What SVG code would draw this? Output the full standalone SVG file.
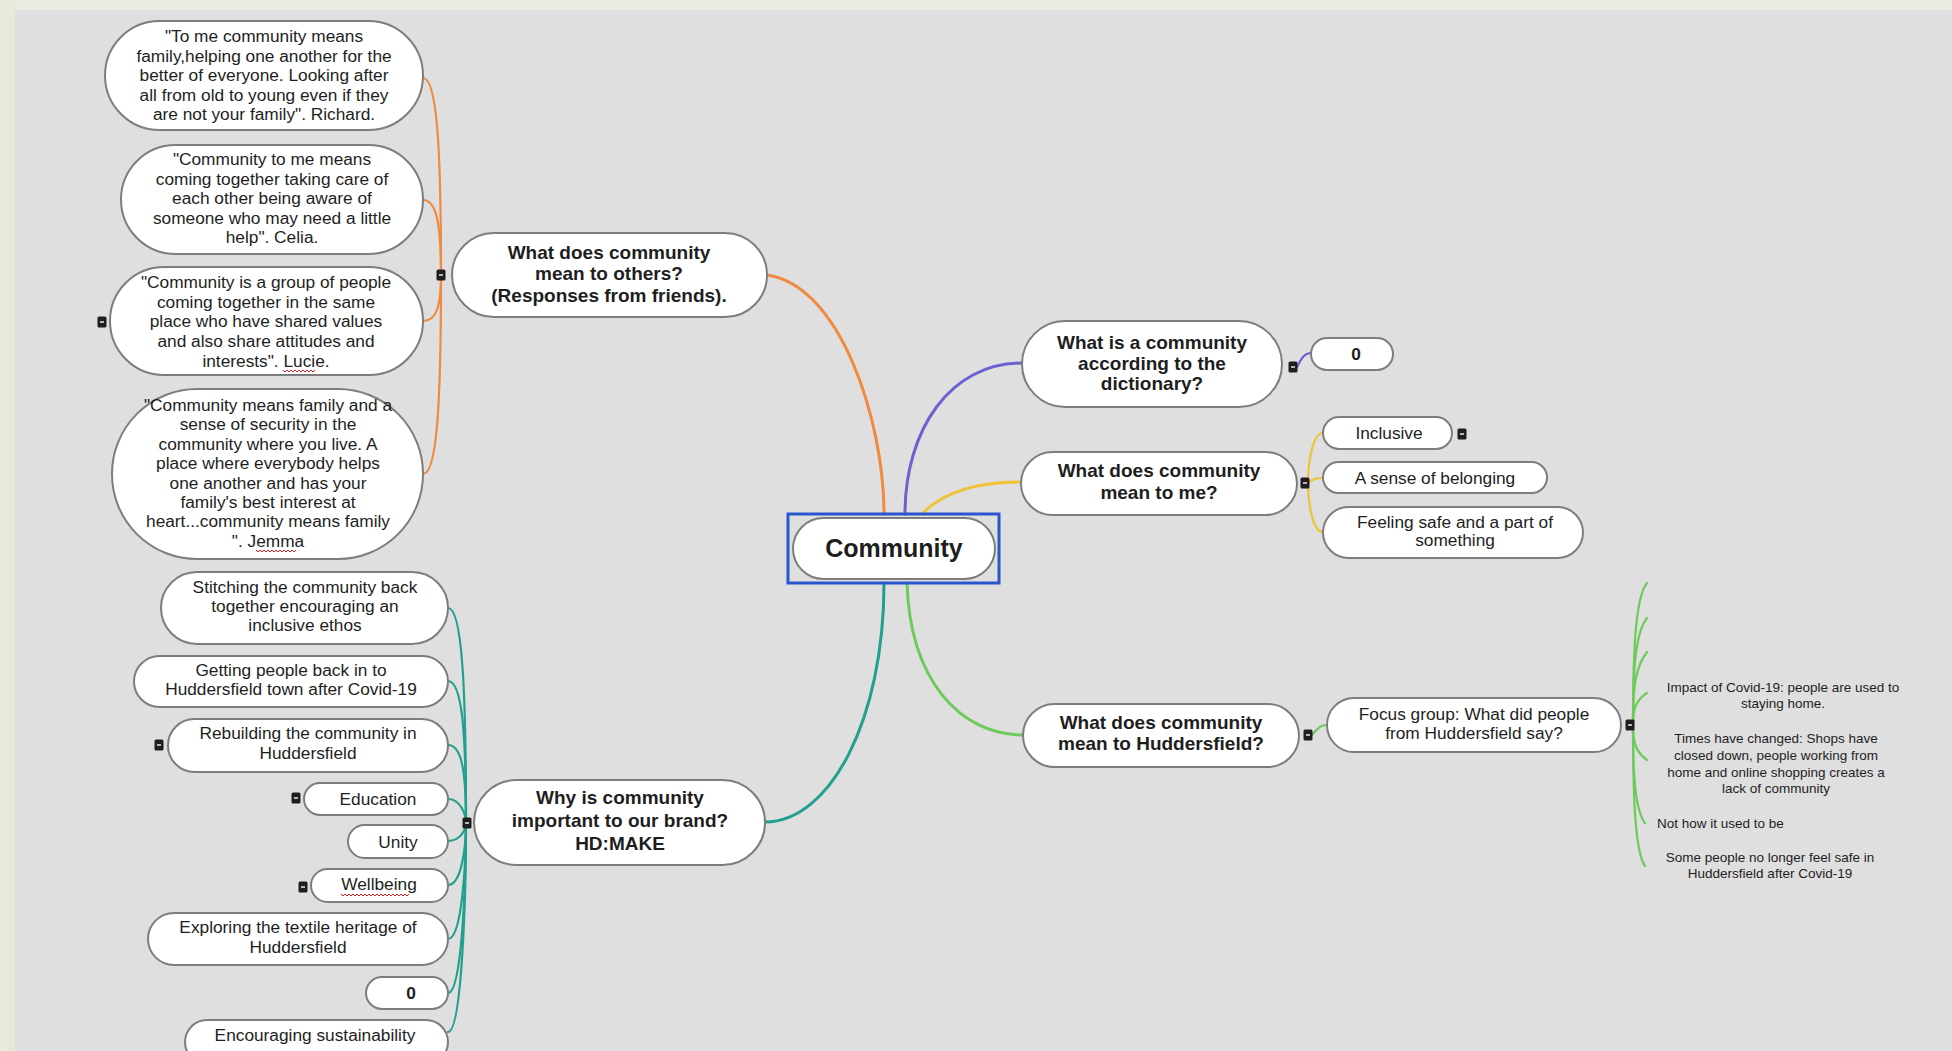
<svg xmlns="http://www.w3.org/2000/svg" xmlns:xlink="http://www.w3.org/1999/xlink" width="1952" height="1051" viewBox="0 0 1952 1051">
<style>
.node rect.p{fill:#ffffff;stroke:#7d7d7d;stroke-width:2}
text{font-family:"Liberation Sans",Arial,sans-serif;fill:#1e1e1e}
.b{font-weight:bold;font-size:19px;text-anchor:middle}
.r{font-size:17.3px;text-anchor:middle}
.lf{font-size:13.5px;text-anchor:middle}
.c{fill:none;stroke-linecap:round}
.or{stroke:#ef8a3e}
.pu{stroke:#6a62cf}
.ye{stroke:#efc238}
.te{stroke:#21a08f}
.gr{stroke:#6ccb5a}
.sq{fill:none;stroke:#d02020;stroke-width:1}
</style>
<defs>
<symbol id="mk" viewBox="-5 -6 10 12" width="10" height="12" overflow="visible">
<rect x="-4.5" y="-5.5" width="9" height="11" rx="1.5" fill="#1e1e1e"/>
<rect x="-2" y="-1" width="4" height="2" fill="#b8b8b8"/>
</symbol>
</defs>
<rect x="0" y="0" width="1952" height="1051" fill="#dfdfdf"/>
<rect x="0" y="0" width="1952" height="10" fill="#ebebe3"/>
<rect x="0" y="0" width="15" height="1051" fill="#e8e9d8"/>

<g id="connectors">
<path class="c or" stroke-width="3" d="M 767 275 C 840 285, 884 420, 884 514"/>
<path class="c pu" stroke-width="3" d="M 905 514 C 905 430, 950 363, 1022 363"/>
<path class="c ye" stroke-width="3" d="M 922 514 C 945 490, 980 482, 1021 482"/>
<path class="c te" stroke-width="3" d="M 884 583 C 884 720, 830 822, 765 822"/>
<path class="c gr" stroke-width="3" d="M 907 583 C 910 680, 960 735, 1023 735"/>
<g stroke-width="2.2">
<path class="c or" d="M 423 78 C 437 78, 441 147, 441 275"/>
<path class="c or" d="M 423 200 C 437 200, 441 226, 441 275"/>
<path class="c or" d="M 423 321 C 437 321, 441 305, 441 275"/>
<path class="c or" d="M 423 474 C 437 474, 441 404, 441 275"/>
<path class="c te" d="M 448 608 C 462 608, 466 685, 466 823"/>
<path class="c te" d="M 448 681 C 462 681, 466 731, 466 823"/>
<path class="c te" d="M 448 745 C 462 745, 466 772, 466 823"/>
<path class="c te" d="M 448 799 C 460 799, 466 814, 466 823"/>
<path class="c te" d="M 448 841 C 460 841, 466 830, 466 823"/>
<path class="c te" d="M 448 885 C 462 885, 466 845, 466 823"/>
<path class="c te" d="M 448 939 C 462 939, 466 864, 466 823"/>
<path class="c te" d="M 448 993 C 462 993, 466 882, 466 823"/>
<path class="c te" d="M 448 1032 C 462 1032, 466 896, 466 823"/>
<path class="c pu" d="M 1297 367 C 1302 357, 1305 353, 1311 353"/>
<path class="c ye" d="M 1323 433 C 1312 433, 1308 466, 1308 483"/>
<path class="c ye" d="M 1323 478 C 1314 478, 1310 481, 1308 483"/>
<path class="c ye" d="M 1323 532 C 1312 532, 1308 500, 1308 483"/>
<path class="c gr" d="M 1312 735 C 1318 728, 1320 725, 1327 725"/>
<path class="c gr" d="M 1633 725 C 1633 654, 1635 598, 1647 583"/>
<path class="c gr" d="M 1633 725 C 1633 672, 1635 633, 1647 618"/>
<path class="c gr" d="M 1633 725 C 1633 689, 1635 667, 1647 652"/>
<path class="c gr" d="M 1633 725 C 1633 709, 1636 700, 1647 693"/>
<path class="c gr" d="M 1633 725 C 1633 743, 1636 752, 1647 760"/>
<path class="c gr" d="M 1633 725 C 1633 774, 1635 810, 1645 823"/>
<path class="c gr" d="M 1633 725 C 1633 796, 1635 852, 1645 866"/>
</g>
</g>

<g id="n-center" class="node">
<rect class="p" x="793" y="518" width="202" height="61" rx="30.5"/>
<rect x="788" y="514" width="211" height="69" fill="none" stroke="#2b55cf" stroke-width="3"/>
<text x="894" y="557" style="font-weight:bold;font-size:25px;text-anchor:middle">Community</text>
</g>

<g id="n-others" class="node">
<rect class="p" x="452" y="233" width="315" height="84" rx="42"/>
<text class="b"><tspan x="609" y="259">What does community</tspan><tspan x="609" y="280">mean to others?</tspan><tspan x="609" y="302">(Responses from friends).</tspan></text>
<use xlink:href="#mk" x="436" y="269"/>
</g>

<g id="n-richard" class="node">
<rect class="p" x="105" y="21" width="318" height="109" rx="54.5"/>
<text class="r"><tspan x="264" y="42">"To me community means</tspan><tspan x="264" y="61.6">family,helping one another for the</tspan><tspan x="264" y="81.2">better of everyone. Looking after</tspan><tspan x="264" y="100.8">all from old to young even if they</tspan><tspan x="264" y="120.4">are not your family". Richard.</tspan></text>
</g>

<g id="n-celia" class="node">
<rect class="p" x="121" y="145" width="302" height="109" rx="54.5"/>
<text class="r"><tspan x="272" y="165">"Community to me means</tspan><tspan x="272" y="184.5">coming together taking care of</tspan><tspan x="272" y="204">each other being aware of</tspan><tspan x="272" y="223.5">someone who may need a little</tspan><tspan x="272" y="243">help". Celia.</tspan></text>
</g>

<g id="n-lucie" class="node">
<rect class="p" x="110" y="267" width="313" height="108" rx="54"/>
<text class="r"><tspan x="266" y="288">"Community is a group of people</tspan><tspan x="266" y="307.7">coming together in the same</tspan><tspan x="266" y="327.4">place who have shared values</tspan><tspan x="266" y="347.1">and also share attitudes and</tspan><tspan x="266" y="366.8">interests". Lucie.</tspan></text>
<path class="sq" d="M 283 370 l 2 2 l 2 -2 l 2 2 l 2 -2 l 2 2 l 2 -2 l 2 2 l 2 -2 l 2 2 l 2 -2 l 2 2 l 2 -2 l 2 2 l 2 -2 l 2 2 l 2 -2"/>
<use xlink:href="#mk" x="97" y="316"/>
</g>

<g id="n-jemma" class="node">
<rect class="p" x="112" y="389" width="311" height="170" rx="85"/>
<text class="r"><tspan x="268" y="411">"Community means family and a</tspan><tspan x="268" y="430.4">sense of security in the</tspan><tspan x="268" y="449.8">community where you live. A</tspan><tspan x="268" y="469.2">place where everybody helps</tspan><tspan x="268" y="488.6">one another and has your</tspan><tspan x="268" y="508">family's best interest at</tspan><tspan x="268" y="527.4">heart...community means family</tspan><tspan x="268" y="546.8">". Jemma</tspan></text>
<path class="sq" d="M 256 550 l 2 2 l 2 -2 l 2 2 l 2 -2 l 2 2 l 2 -2 l 2 2 l 2 -2 l 2 2 l 2 -2 l 2 2 l 2 -2 l 2 2 l 2 -2 l 2 2 l 2 -2 l 2 2 l 2 -2 l 2 2 l 2 -2"/>
</g>

<g id="n-why" class="node">
<rect class="p" x="474" y="780" width="291" height="85" rx="42.5"/>
<text class="b"><tspan x="620" y="804">Why is community</tspan><tspan x="620" y="827">important to our brand?</tspan><tspan x="620" y="850">HD:MAKE</tspan></text>
<use xlink:href="#mk" x="462" y="817"/>
</g>

<g id="n-stitching" class="node">
<rect class="p" x="161" y="572" width="287" height="72" rx="36"/>
<text class="r"><tspan x="305" y="593">Stitching the community back</tspan><tspan x="305" y="612">together encouraging an</tspan><tspan x="305" y="631">inclusive ethos</tspan></text>
</g>

<g id="n-getting" class="node">
<rect class="p" x="134" y="656" width="314" height="51" rx="25.5"/>
<text class="r"><tspan x="291" y="676">Getting people back in to</tspan><tspan x="291" y="695">Huddersfield town after Covid-19</tspan></text>
</g>

<g id="n-rebuilding" class="node">
<rect class="p" x="168" y="719" width="280" height="53" rx="26.5"/>
<text class="r"><tspan x="308" y="739">Rebuilding the community in</tspan><tspan x="308" y="759">Huddersfield</tspan></text>
<use xlink:href="#mk" x="154" y="739"/>
</g>

<g id="n-education" class="node">
<rect class="p" x="304" y="783" width="144" height="32" rx="16"/>
<text class="r" x="378" y="805">Education</text>
<use xlink:href="#mk" x="291" y="792"/>
</g>

<g id="n-unity" class="node">
<rect class="p" x="348" y="825" width="100" height="33" rx="16.5"/>
<text class="r" x="398" y="848">Unity</text>
</g>

<g id="n-wellbeing" class="node">
<rect class="p" x="311" y="869" width="137" height="33" rx="16.5"/>
<text class="r" x="379" y="890">Wellbeing</text>
<path class="sq" d="M 341 894 l 2 2 l 2 -2 l 2 2 l 2 -2 l 2 2 l 2 -2 l 2 2 l 2 -2 l 2 2 l 2 -2 l 2 2 l 2 -2 l 2 2 l 2 -2 l 2 2 l 2 -2 l 2 2 l 2 -2 l 2 2 l 2 -2 l 2 2 l 2 -2 l 2 2 l 2 -2 l 2 2 l 2 -2 l 2 2 l 2 -2 l 2 2 l 2 -2 l 2 2 l 2 -2 l 2 2 l 2 -2"/>
<use xlink:href="#mk" x="298" y="881"/>
</g>

<g id="n-exploring" class="node">
<rect class="p" x="148" y="913" width="300" height="52" rx="26"/>
<text class="r"><tspan x="298" y="933">Exploring the textile heritage of</tspan><tspan x="298" y="953">Huddersfield</tspan></text>
</g>

<g id="n-zero1" class="node">
<rect class="p" x="366" y="977" width="82" height="32" rx="16"/>
<text class="r" x="411" y="999" style="font-weight:bold">0</text>
</g>

<g id="n-sustain" class="node">
<rect class="p" x="185" y="1020" width="263" height="44" rx="22"/>
<text class="r" x="315" y="1041">Encouraging sustainability</text>
</g>

<g id="n-dict" class="node">
<rect class="p" x="1022" y="321" width="260" height="86" rx="43"/>
<text class="b"><tspan x="1152" y="349">What is a community</tspan><tspan x="1152" y="370">according to the</tspan><tspan x="1152" y="390">dictionary?</tspan></text>
<use xlink:href="#mk" x="1288" y="361"/>
</g>

<g id="n-zero2" class="node">
<rect class="p" x="1311" y="338" width="82" height="32" rx="16"/>
<text class="r" x="1356" y="360" style="font-weight:bold">0</text>
</g>

<g id="n-me" class="node">
<rect class="p" x="1021" y="452" width="276" height="63" rx="31.5"/>
<text class="b"><tspan x="1159" y="477">What does community</tspan><tspan x="1159" y="499">mean to me?</tspan></text>
<use xlink:href="#mk" x="1300" y="477"/>
</g>

<g id="n-inclusive" class="node">
<rect class="p" x="1323" y="417" width="129" height="32" rx="16"/>
<text class="r" x="1389" y="439">Inclusive</text>
<use xlink:href="#mk" x="1457" y="428"/>
</g>

<g id="n-belonging" class="node">
<rect class="p" x="1323" y="462" width="224" height="31" rx="15.5"/>
<text class="r" x="1435" y="484">A sense of belonging</text>
</g>

<g id="n-feeling" class="node">
<rect class="p" x="1323" y="507" width="260" height="51" rx="25.5"/>
<text class="r"><tspan x="1455" y="528">Feeling safe and a part of</tspan><tspan x="1455" y="546">something</tspan></text>
</g>

<g id="n-hudd" class="node">
<rect class="p" x="1023" y="704" width="276" height="63" rx="31.5"/>
<text class="b"><tspan x="1161" y="729">What does community</tspan><tspan x="1161" y="750">mean to Huddersfield?</tspan></text>
<use xlink:href="#mk" x="1303" y="729"/>
</g>

<g id="n-focus" class="node">
<rect class="p" x="1327" y="698" width="294" height="54" rx="27"/>
<text class="r"><tspan x="1474" y="720">Focus group: What did people</tspan><tspan x="1474" y="739">from Huddersfield say?</tspan></text>
<use xlink:href="#mk" x="1625" y="719"/>
</g>

<g id="n-impact" class="node">
<text class="lf"><tspan x="1783" y="692">Impact of Covid-19: people are used to</tspan><tspan x="1783" y="708">staying home.</tspan></text>
</g>
<g id="n-times" class="node">
<text class="lf"><tspan x="1776" y="743">Times have changed: Shops have</tspan><tspan x="1776" y="760">closed down, people working from</tspan><tspan x="1776" y="777">home and online shopping creates a</tspan><tspan x="1776" y="793">lack of community</tspan></text>
</g>
<g id="n-nothow" class="node">
<text class="lf" x="1657" y="828" style="text-anchor:start">Not how it used to be</text>
</g>
<g id="n-some" class="node">
<text class="lf"><tspan x="1770" y="862">Some people no longer feel safe in</tspan><tspan x="1770" y="878">Huddersfield after Covid-19</tspan></text>
</g>
</svg>
